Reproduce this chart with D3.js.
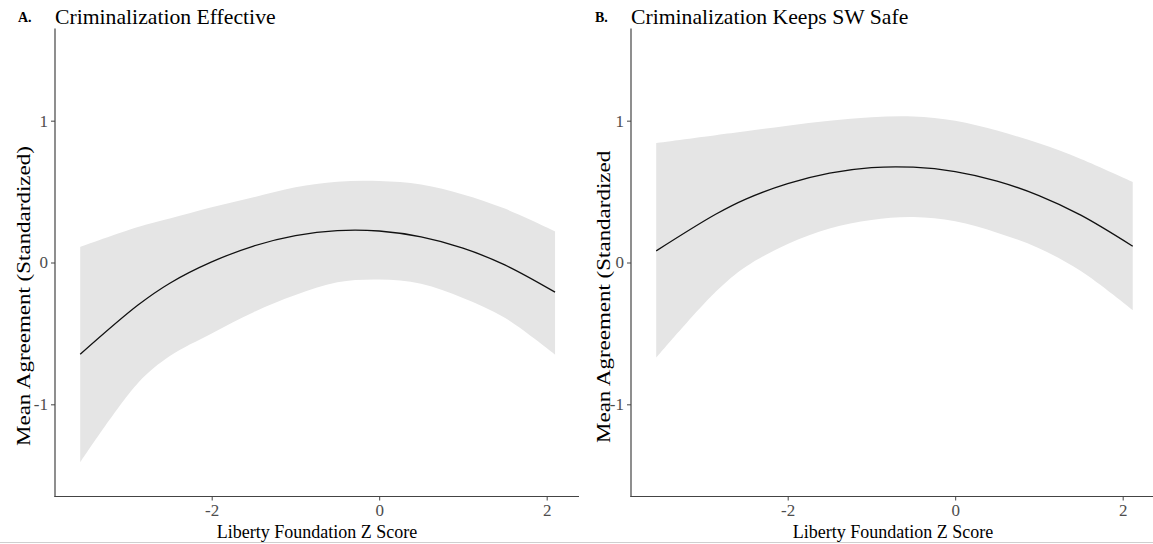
<!DOCTYPE html>
<html>
<head>
<meta charset="utf-8">
<script src="https://cdn.jsdelivr.net/npm/d3@7"></script>
<style>
  html, body { margin: 0; padding: 0; background: #fff; }
  svg { display: block; }
  text { font-family: "Liberation Serif", "Times New Roman", serif; }
</style>
</head>
<body>
<svg id="chart" width="1153" height="544"></svg>
<script>
// Predicted agreement across Liberty foundation scores (fit with 95% band)
const xA    = [-3.57, -2.88, -2.5, -2.0, -1.5, -1.0, -0.5, 0, 0.5, 1.0, 1.5, 2.1];
const fitA  = [-0.647, -0.30, -0.146, 0.004, 0.116, 0.189, 0.225, 0.222, 0.180, 0.101, -0.017, -0.209];
const lowA  = [-1.41, -0.85, -0.66, -0.50, -0.35, -0.23, -0.14, -0.12, -0.15, -0.25, -0.39, -0.65];
const highA = [0.11, 0.25, 0.31, 0.39, 0.46, 0.53, 0.57, 0.575, 0.55, 0.48, 0.38, 0.22];

const xB    = [-3.57, -2.86, -2.5, -2.0, -1.5, -1.0, -0.5, 0, 0.5, 1.0, 1.5, 2.12];
const fitB  = [0.082, 0.34, 0.447, 0.556, 0.630, 0.669, 0.672, 0.641, 0.574, 0.472, 0.334, 0.115];
const lowB  = [-0.673, -0.207, -0.03, 0.13, 0.24, 0.30, 0.32, 0.29, 0.21, 0.10, -0.06, -0.336];
const highB = [0.843, 0.898, 0.925, 0.965, 1.0, 1.025, 1.03, 1.0, 0.93, 0.84, 0.73, 0.568];

const xTicks = [-2, 0, 2];
const yTicks = [-1, 0, 1];
const xDomain = [-3.871, 2.386];
const yDomain = [-1.65, 1.65];

const panels = [
  { tag: "A.", title: "Criminalization Effective", x: xA, fit: fitA, low: lowA, high: highA,
    left: 55, right: 579, tagX: 18, titleX: 55,
    ylab: "Mean Agreement (Standardized)", ylabX: 30, ylabY: 446 },
  { tag: "B.", title: "Criminalization Keeps SW Safe", x: xB, fit: fitB, low: lowB, high: highB,
    left: 631, right: 1155, tagX: 595, titleX: 631,
    ylab: "Mean Agreement (Standardized", ylabX: 610, ylabY: 443 }
];

const svg = d3.select("#chart");
const plotTop = 28.5, plotBottom = 496.5;
const tickText = d => String(d);   // plain hyphen for negatives
const curve = d3.curveCatmullRom.alpha(0.5);

panels.forEach(p => {
  const x = d3.scaleLinear().domain(xDomain).range([p.left, p.right]);
  const y = d3.scaleLinear().domain(yDomain).range([plotBottom, plotTop]);
  const rows = p.x.map((v, i) => ({ x: v, fit: p.fit[i], low: p.low[i], high: p.high[i] }));

  const g = svg.append("g");

  g.append("path")
    .datum(rows)
    .attr("fill", "#e5e5e5")
    .attr("d", d3.area().curve(curve)
      .x(d => x(d.x)).y0(d => y(d.low)).y1(d => y(d.high)));

  g.append("path")
    .datum(rows)
    .attr("fill", "none")
    .attr("stroke", "#111")
    .attr("stroke-width", 1.3)
    .attr("d", d3.line().curve(curve)
      .x(d => x(d.x)).y(d => y(d.fit)));

  // axes
  const xAxis = g.append("g")
    .attr("transform", `translate(0,${plotBottom})`)
    .call(d3.axisBottom(x).tickValues(xTicks).tickSize(4).tickSizeOuter(0).tickPadding(3)
      .tickFormat(tickText));
  const yAxis = g.append("g")
    .attr("transform", `translate(${p.left},0)`)
    .call(d3.axisLeft(y).tickValues(yTicks).tickSize(4).tickSizeOuter(0).tickPadding(3)
      .tickFormat(tickText));

  [xAxis, yAxis].forEach(a => {
    a.select(".domain").attr("stroke", "#444").attr("stroke-width", 1.2);
    a.selectAll(".tick line").attr("stroke", "#444").attr("stroke-width", 1);
    a.selectAll(".tick text")
      .attr("fill", "#4d4d4d")
      .style("font-family", "'Liberation Serif', serif")
      .style("font-size", "17px");
  });
  xAxis.select(".domain").attr("d", `M${p.left - 0.6},0H${p.right}`);
  yAxis.select(".domain").attr("d", `M0,${plotTop}V${plotBottom + 0.6}`);

  // titles
  g.append("text")
    .attr("x", p.tagX).attr("y", 22)
    .style("font-size", "14px").style("font-weight", "bold")
    .text(p.tag);
  g.append("text")
    .attr("x", p.titleX).attr("y", 24)
    .style("font-size", "21.7px")
    .text(p.title);

  g.append("text")
    .attr("x", (p.left + p.right) / 2).attr("y", 538)
    .attr("text-anchor", "middle")
    .style("font-size", "18px")
    .text("Liberty Foundation Z Score");

  // y title, drawn a little elongated along its run
  g.append("text")
    .attr("transform", `translate(${p.ylabX},${p.ylabY}) rotate(-90) scale(1.21,1)`)
    .attr("text-anchor", "start")
    .style("font-size", "19px")
    .text(p.ylab);
});

// thin rule along the bottom edge
svg.append("line")
  .attr("x1", 0).attr("x2", 1153).attr("y1", 542.5).attr("y2", 542.5)
  .attr("stroke", "#cfcfcf").attr("stroke-width", 1);
</script>
</body>
</html>
